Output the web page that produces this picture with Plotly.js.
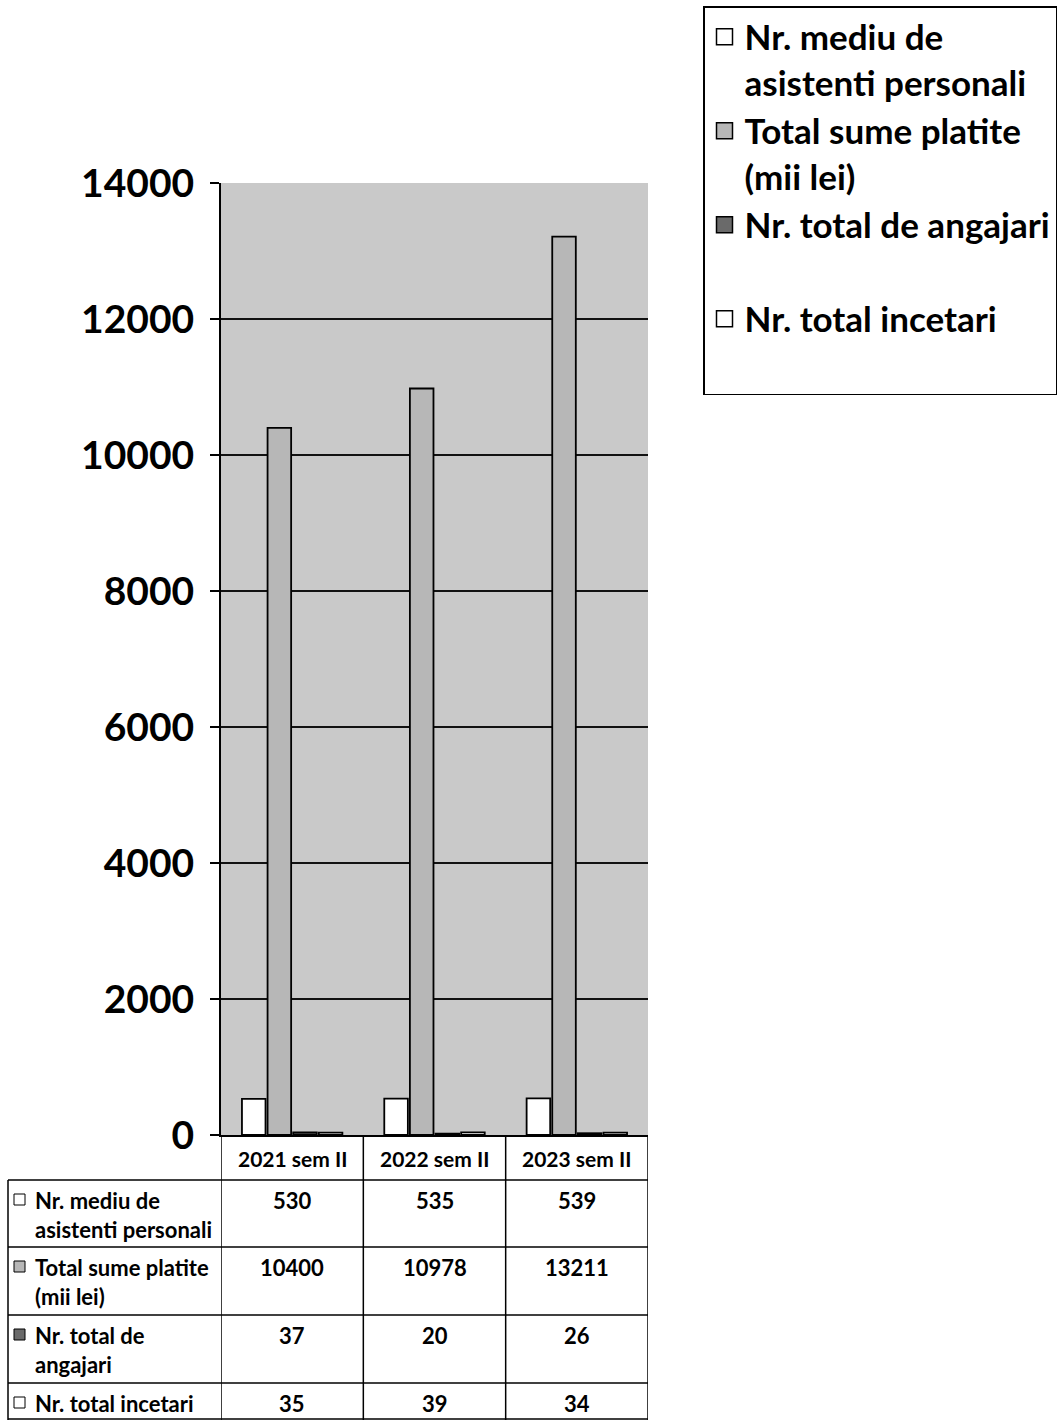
<!DOCTYPE html>
<html>
<head>
<meta charset="utf-8">
<script src="https://cdn.plot.ly/plotly-3.0.1.min.js"></script>
<style>
  html, body { margin: 0; padding: 0; background: #ffffff; overflow: hidden; }
  #chart { width: 1059px; height: 1420px; }
</style>
</head>
<body>
<div id="chart"></div>
<script>
// ---- data ----
const categories = ['2021 sem II', '2022 sem II', '2023 sem II'];
const seriesNames = ['Nr. mediu de asistenti personali', 'Total sume platite (mii lei)', 'Nr. total de angajari', 'Nr. total incetari'];
const legendLabels = ['Nr. mediu de<br>asistenti personali', 'Total sume platite<br>(mii lei)', 'Nr. total de angajari<br> ', 'Nr. total incetari<br> '];
const tableLabels = ['Nr. mediu de<br>asistenti personali', 'Total sume platite<br>(mii lei)', 'Nr. total de<br>angajari', 'Nr. total incetari'];
const mediuAsistenti = [530, 535, 539];
const totalSume = [10400, 10978, 13211];
const totalAngajari = [37, 20, 26];
const totalIncetari = [35, 39, 34];
const yTicks = [0, 2000, 4000, 6000, 8000, 10000, 12000, 14000];

// ---- styling ----
const FONT = 'Lato, "Open Sans", sans-serif';
const colors = ['#ffffff', '#b7b7b7', '#6a6a6a', '#ffffff'];
const seriesValues = [mediuAsistenti, totalSume, totalAngajari, totalIncetari];

// plot geometry in px
const W = 1059, H = 1420;
const L = 221, R = 648, T = 183, B = 1135;
const px = x => (x - L) / (R - L);
const py = y => (B - y) / (B - T);

const traces = seriesValues.map((vals, i) => ({
  type: 'bar',
  x: categories,
  y: vals,
  name: seriesNames[i],
  showlegend: false,
  marker: { color: colors[i], line: { color: '#000000', width: 1.8 } },
  hoverinfo: 'x+y'
}));
// legend-only entries (larger square swatches)
seriesValues.forEach((vals, i) => traces.push({
  type: 'scatter', mode: 'markers', x: [null], y: [null],
  name: legendLabels[i], legendgroup: 'g' + i, showlegend: true,
  marker: { symbol: 'square', size: 16, color: colors[i], line: { color: '#000', width: 1.5 } }
}));

const shapes = [];
const annotations = [];
const line = (x0, y0, x1, y1, xref, w) => shapes.push({
  type: 'line', xref: xref, yref: 'paper', x0: x0, x1: x1, y0: y0, y1: y1,
  line: { color: '#000000', width: w || 1.5 }
});

// table horizontal lines
[1180, 1247, 1315, 1383, 1419].forEach(y => line(px(8), py(y), px(648), py(y), 'paper'));
// left border
line(px(8), py(1180), px(8), py(1420), 'paper');
// column lines (data coordinates of the category axis)
[-0.5, 0.5, 1.5, 2.5].forEach(x => line(x, py(B), x, py(1420), 'x'));

const rowTops = [1180, 1247, 1315, 1383];
// header labels
categories.forEach((c, i) => annotations.push({
  xref: 'x', yref: 'paper', x: i, y: py(1158), text: c, showarrow: false,
  xanchor: 'center', yanchor: 'middle',
  font: { family: FONT, size: 21, color: '#000', weight: 'bold' }
}));
// row labels + swatches + values
seriesValues.forEach((vals, r) => {
  const top = rowTops[r];
  annotations.push({
    xref: 'paper', yref: 'paper', x: px(33), y: py(top + 5), text: tableLabels[r],
    showarrow: false, xanchor: 'left', yanchor: 'top', align: 'left',
    font: { family: FONT, size: 22, color: '#000', weight: 'bold' }
  });
  shapes.push({
    type: 'rect', xref: 'paper', yref: 'paper',
    x0: px(14), x1: px(25), y0: py(top + 14), y1: py(top + 25),
    fillcolor: colors[r], line: { color: '#000', width: 1 }
  });
  vals.forEach((v, i) => annotations.push({
    xref: 'x', yref: 'paper', x: i, y: py(top + 5), text: String(v), showarrow: false,
    xanchor: 'center', yanchor: 'top',
    font: { family: FONT, size: 22, color: '#000', weight: 'bold' }
  }));
});

const layout = {
  width: W, height: H,
  margin: { l: L, r: W - R, t: T, b: H - B, pad: 0, autoexpand: false },
  paper_bgcolor: '#ffffff',
  plot_bgcolor: '#c9c9c9',
  barmode: 'group',
  bargap: 0.28,
  bargroupgap: 0.08,
  showlegend: true,
  legend: {
    x: px(703), y: py(6), xanchor: 'left', yanchor: 'top',
    bgcolor: '#ffffff', bordercolor: '#000000', borderwidth: 1.5,
    font: { family: FONT, size: 35, color: '#000', weight: 'bold' },
    valign: 'top', traceorder: 'normal', tracegroupgap: 3,
    itemsizing: 'trace'
  },
  xaxis: {
    type: 'category', range: [-0.5, 2.5], showticklabels: false,
    showline: true, linecolor: '#000', linewidth: 2, ticks: '', showgrid: false,
    zeroline: false, fixedrange: true
  },
  yaxis: {
    range: [0, 14000], tickvals: yTicks, ticktext: yTicks.map(String),
    ticks: 'outside', ticklen: 9, tickwidth: 2, tickcolor: '#000',
    showline: true, linecolor: '#000', linewidth: 2,
    showgrid: true, gridcolor: '#111111', gridwidth: 1.2, zeroline: false,
    ticklabelstandoff: 8,
    tickfont: { family: FONT, size: 39, color: '#000', weight: 'bold' },
    fixedrange: true
  },
  shapes: shapes,
  annotations: annotations
};

Plotly.newPlot('chart', traces, layout, { displayModeBar: false, staticPlot: true });
</script>
</body>
</html>
